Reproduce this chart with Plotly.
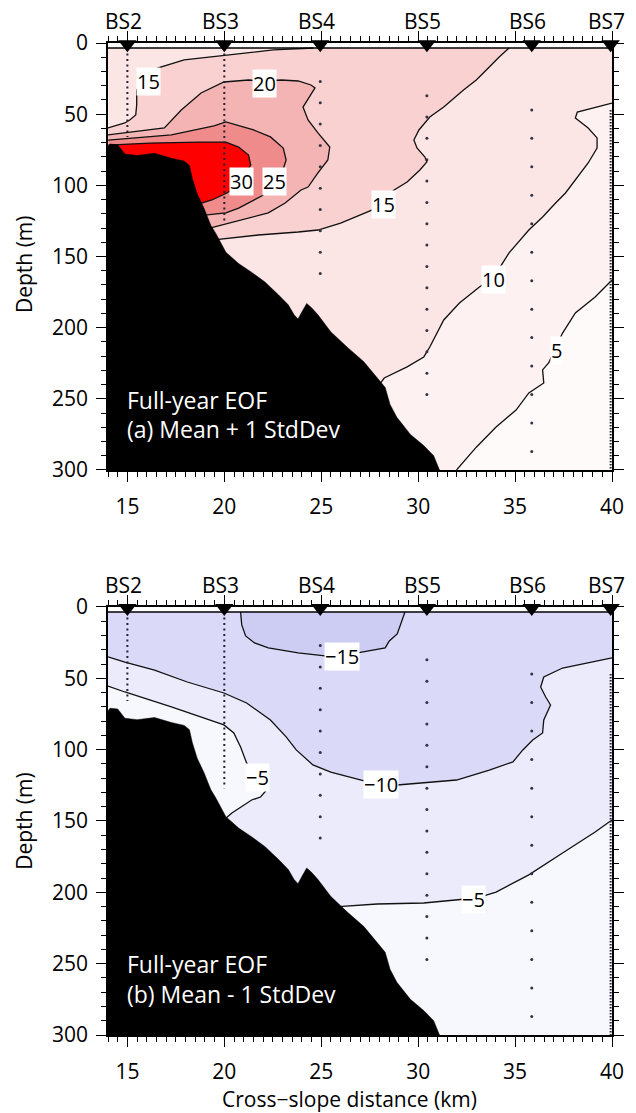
import plotly.graph_objects as go

FONT = "Open Sans"

# ---------------- axes / stations ----------------
KM_RANGE = [14, 40]
DEPTH_RANGE = [300, 0]
DATA_TOP_DEPTH = 3.5
BOTTOM_DEPTH = 300

STATION_NAMES = ["BS2", "BS3", "BS4", "BS5", "BS6", "BS7"]
STATION_KM = [15.0, 20.0, 24.95, 30.45, 35.86, 39.93]
STATION_MARK_DEPTH = 0.8

BS2_LINE_DEPTH = [3.5, 66]
BS3_LINE_DEPTH = [3.5, 127]
BS7_LINE_DEPTH = [47, 300]
BS4_DOT_DEPTH = [27, 42, 57, 72, 87, 102, 117, 132, 147, 162]
BS5_DOT_DEPTH = [37, 52, 67, 82, 97, 112, 127, 142, 157, 172, 187, 202, 217, 232, 247]
BS6_DOT_DEPTH = [47, 67, 87, 107, 127, 147, 167, 187, 207, 227, 247, 267, 287]

# ---------------- bathymetry ----------------
BATHY_KM = [14.0, 14.1, 14.5, 14.87, 15.5, 16.4, 17.27, 17.93, 18.2, 18.35, 18.6, 18.95,
            19.3, 19.57, 20.08, 20.4, 20.74, 21.4, 22.1, 22.8, 23.3, 23.6, 23.8, 24.0,
            24.25, 24.5, 24.83, 25.5, 26.36, 27.2, 27.9, 28.3, 28.55, 28.9, 29.6, 30.3,
            30.8, 31.1]
BATHY_DEPTH = [73, 71, 71.5, 78, 79, 77.5, 81, 83, 86, 95, 106, 116,
               128, 134, 147, 151, 155, 161, 168, 177, 184, 191, 194, 189,
               183, 186, 191, 203, 214, 224, 235, 242, 254, 263, 275, 283,
               290, 300]

# ---------------- panel (a) contours: Mean + 1 StdDev ----------------
A_C5_KM = [40.0, 39.13, 38.11, 37.45, 37.09, 36.73, 36.42, 36.48, 35.71, 35.05, 34.02, 33.0, 31.98]
A_C5_D = [166.5, 178.5, 189.7, 203.8, 214.3, 224.8, 229.7, 238.9, 245.9, 257.9, 269.8, 284.0, 300.0]

A_C10_KM = [40.0, 38.21, 38.11, 38.77, 39.23, 39.23, 38.77, 38.11, 37.60, 37.09, 36.42, 35.71,
            34.69, 33.87, 33.16, 32.13, 31.32, 30.60, 30.29, 29.43, 28.25, 28.0]
A_C10_D = [42.2, 48.5, 52.7, 59.7, 66.7, 73.8, 84.3, 96.3, 105.4, 112.4, 122.3, 131.4,
           147.5, 165.1, 171.4, 182.7, 194.6, 213.6, 220.6, 227.6, 235.4, 240.0]

A_C15A_KM = [14.0, 14.87, 15.12, 15.43, 15.48, 15.48, 16.15, 16.55, 17.93, 20.08, 22.53, 24.6]
A_C15A_D = [59.7, 56.2, 54.1, 50.6, 43.6, 33.0, 24.6, 17.6, 11.9, 8.4, 4.9, 3.5]

A_C15B_KM = [34.69, 34.18, 33.67, 33.0, 32.34, 31.72, 31.32, 30.60, 30.04, 29.78, 29.94, 30.35,
             30.45, 30.09, 29.43, 28.76, 28.25, 27.64, 26.87, 26.0, 24.83, 23.81, 21.76, 20.23, 19.47]
A_C15B_D = [3.5, 9.8, 16.9, 26.0, 33.0, 40.0, 45.0, 52.0, 61.1, 68.2, 73.8, 80.1,
            83.6, 89.2, 97.7, 103.3, 110.3, 117.3, 121.5, 126.5, 131.4, 132.8, 134.9, 137.0, 138.4]

A_C20_KM = [14.0, 16.91, 17.78, 18.80, 19.98, 21.25, 22.07, 22.94, 23.81, 24.47, 24.68, 24.06,
            24.32, 24.83, 25.44, 25.34, 24.83, 24.32, 23.96, 23.14, 22.27, 20.23, 19.25]
A_C20_D = [64.6, 59.7, 47.1, 35.1, 27.4, 26.0, 26.7, 26.0, 26.7, 29.5, 31.6, 45.0,
           54.1, 63.2, 73.1, 82.2, 91.3, 101.2, 103.3, 112.4, 119.4, 126.5, 130.0]

A_C25_KM = [14.0, 17.27, 19.47, 20.08, 21.51, 22.38, 23.04, 23.19, 22.89, 22.02, 20.74, 20.08, 19.0]
A_C25_D = [68.2, 64.6, 58.3, 55.5, 61.1, 66.0, 73.8, 82.2, 94.9, 106.8, 116.0, 119.4, 121.0]

A_C30_KM = [14.0, 16.15, 18.70, 20.08, 20.74, 21.25, 21.36, 21.10, 20.74, 20.13, 19.36, 18.7]
A_C30_D = [71.7, 70.3, 69.6, 69.6, 73.1, 78.7, 85.7, 92.7, 99.8, 105.4, 110.3, 113.0]

A_LABEL_TEXT = ["15", "20", "30", "25", "15", "10", "5"]
A_LABEL_KM = [16.07, 22.07, 20.87, 22.6, 28.22, 33.9, 37.14]
A_LABEL_D = [26.7, 28.5, 97.3, 97.3, 113.5, 166.2, 216.0]

# ---------------- panel (b) contours: Mean - 1 StdDev ----------------
B_C15_KM = [20.84, 20.9, 21.10, 21.56, 22.27, 23.81, 25.19, 26.87, 28.30, 28.51, 28.92, 29.12, 29.32]
B_C15_D = [3.5, 12.6, 20.3, 25.2, 28.7, 32.2, 34.3, 32.2, 28.7, 23.8, 18.9, 11.2, 3.5]

B_C10_KM = [14.0, 14.87, 16.40, 18.09, 19.98, 21.15, 22.38, 23.19, 23.71, 24.57, 25.49, 27.03,
            28.05, 28.92, 30.29, 31.98, 33.67, 34.89, 35.40, 35.91, 36.42, 36.48, 36.83, 36.58,
            36.32, 36.48, 37.45, 38.77, 40.0]
B_C10_D = [35.0, 38.6, 44.2, 52.6, 60.3, 67.3, 79.2, 91.1, 100.2, 110.7, 115.7, 121.3,
           124.8, 124.8, 123.4, 121.3, 114.3, 108.6, 100.2, 93.2, 88.3, 79.2, 68.7, 63.1,
           56.1, 49.1, 42.8, 39.3, 35.7]

B_C5A_KM = [14.0, 14.87, 17.27, 18.95, 19.98, 20.49, 20.84, 21.15, 21.61, 22.27, 21.87, 21.41, 20.39, 20.0]
B_C5A_D = [55.4, 59.6, 70.1, 77.8, 82.7, 88.3, 98.1, 109.3, 119.2, 126.9, 133.2, 135.3, 144.4, 149.0]

B_C5B_KM = [25.9, 27.89, 30.29, 32.13, 33.0, 34.02, 35.71, 37.45, 39.13, 40.0]
B_C5B_D = [210.0, 208.2, 207.5, 205.4, 204.0, 199.8, 187.8, 172.4, 157.7, 149.3]

B_LABEL_TEXT = ["\u221215", "\u221210", "\u22125", "\u22125"]
B_LABEL_KM = [26.05, 28.07, 21.71, 32.87]
B_LABEL_D = [34.7, 124.1, 119.5, 205.0]

# ---------------- styles ----------------
A_FILL = {"lt5": "#fefafa", "5": "#fdf1f1", "10": "#fce5e5", "15": "#f9d1d1",
          "20": "#f5b4b4", "25": "#ef8b8b", "30": "#fe0000"}
B_FILL = {"gtm5": "#f7f7fe", "m5": "#ebebfc", "m10": "#dadaf8", "m15": "#cdcdf4"}

fig = go.Figure()


def under_bathy(k_from, k_to, offset=6):
    lo, hi = min(k_from, k_to), max(k_from, k_to)
    pts = [(k, d + offset) for k, d in zip(BATHY_KM, BATHY_DEPTH) if lo < k < hi]
    if k_from > k_to:
        pts = pts[::-1]
    return [p[0] for p in pts], [p[1] for p in pts]


def poly(xs, ys, color, xa, ya):
    fig.add_trace(go.Scatter(x=xs, y=ys, mode="lines", fill="toself", fillcolor=color,
                             line=dict(width=0, color=color), xaxis=xa, yaxis=ya,
                             hoverinfo="skip", showlegend=False))


def cline(xs, ys, xa, ya, width=1.3, color="#111111", dash=None):
    fig.add_trace(go.Scatter(x=xs, y=ys, mode="lines",
                             line=dict(width=width, color=color, dash=dash),
                             xaxis=xa, yaxis=ya, hoverinfo="skip", showlegend=False))


K0, K1 = KM_RANGE
T, B = DATA_TOP_DEPTH, BOTTOM_DEPTH

# ===== panel a fills =====
xa, ya = "x", "y"
poly([K0, K1, K1, K0], [T, T, B, B], A_FILL["lt5"], xa, ya)
poly(A_C5_KM + [K0, K0, K1], A_C5_D + [B, T, T], A_FILL["5"], xa, ya)
ux, uy = under_bathy(A_C10_KM[-1], K0)
poly(A_C10_KM + ux + [K0, K1], A_C10_D + uy + [T, T], A_FILL["10"], xa, ya)
ux, uy = under_bathy(A_C15B_KM[-1], K0)
poly(A_C15A_KM + A_C15B_KM + ux, A_C15A_D + A_C15B_D + uy, A_FILL["15"], xa, ya)
for ck, cd, key in [(A_C20_KM, A_C20_D, "20"), (A_C25_KM, A_C25_D, "25"), (A_C30_KM, A_C30_D, "30")]:
    ux, uy = under_bathy(ck[-1], K0)
    poly(ck + ux, cd + uy, A_FILL[key], xa, ya)
for ck, cd in [(A_C5_KM, A_C5_D), (A_C10_KM, A_C10_D), (A_C15A_KM, A_C15A_D),
               (A_C15B_KM, A_C15B_D), (A_C20_KM, A_C20_D), (A_C25_KM, A_C25_D), (A_C30_KM, A_C30_D)]:
    cline(ck, cd, xa, ya)

# ===== panel b fills =====
xb, yb = "x2", "y2"
poly([K0, K1, K1, K0], [T, T, B, B], B_FILL["gtm5"], xb, yb)
ux, uy = under_bathy(B_C5B_KM[0], B_C5A_KM[-1])
poly([K0, K1] + B_C5B_KM[::-1] + ux + B_C5A_KM[::-1],
     [T, T] + B_C5B_D[::-1] + uy + B_C5A_D[::-1], B_FILL["m5"], xb, yb)
poly(B_C10_KM + [K1, K0], B_C10_D + [T, T], B_FILL["m10"], xb, yb)
poly(B_C15_KM, B_C15_D, B_FILL["m15"], xb, yb)
for ck, cd in [(B_C15_KM, B_C15_D), (B_C10_KM, B_C10_D), (B_C5A_KM, B_C5A_D), (B_C5B_KM, B_C5B_D)]:
    cline(ck, cd, xb, yb)

# ===== common: bathymetry, stations =====
for xr, yr in [("x", "y"), ("x2", "y2")]:
    fig.add_trace(go.Scatter(x=BATHY_KM + [K0], y=BATHY_DEPTH + [B], mode="lines", fill="toself",
                             fillcolor="black", line=dict(width=0.5, color="black"),
                             xaxis=xr, yaxis=yr, hoverinfo="skip", showlegend=False))
    cline([STATION_KM[0]] * 2, BS2_LINE_DEPTH, xr, yr, width=2, color="#222233", dash="2px,3.5px")
    cline([STATION_KM[1]] * 2, BS3_LINE_DEPTH, xr, yr, width=2, color="#222233", dash="2px,3.5px")
    cline([STATION_KM[5]] * 2, BS7_LINE_DEPTH, xr, yr, width=2, color="#222233", dash="1.5px,1.5px")
    for km, depths in [(STATION_KM[2], BS4_DOT_DEPTH), (STATION_KM[3], BS5_DOT_DEPTH),
                       (STATION_KM[4], BS6_DOT_DEPTH)]:
        fig.add_trace(go.Scatter(x=[km] * len(depths), y=depths, mode="markers",
                                 marker=dict(size=3, color="#333344"),
                                 xaxis=xr, yaxis=yr, hoverinfo="skip", showlegend=False))
    fig.add_trace(go.Scatter(x=STATION_KM, y=[STATION_MARK_DEPTH] * len(STATION_KM), mode="markers",
                             marker=dict(symbol="triangle-down", size=16, color="black"),
                             cliponaxis=False, xaxis=xr, yaxis=yr, hoverinfo="skip", showlegend=False))
    fig.add_shape(type="line", xref=xr, yref=yr, x0=K0, x1=K1, y0=T, y1=T,
                  line=dict(color="black", width=1.5))

# ---------------- annotations ----------------
ann = []
for xr, yr in [("x", "y"), ("x2", "y2")]:
    for name, km in zip(STATION_NAMES, STATION_KM):
        ann.append(dict(x=km, y=0, xref=xr, yref=yr, text=name, showarrow=False,
                        xanchor="center", yanchor="bottom", yshift=6, xshift=-4,
                        font=dict(family=FONT, size=21, color="black")))

for t, k, d in zip(A_LABEL_TEXT, A_LABEL_KM, A_LABEL_D):
    ann.append(dict(x=k, y=d, xref="x", yref="y", text=t, showarrow=False, bgcolor="white",
                    borderpad=0, font=dict(family=FONT, size=20, color="black")))
for t, k, d in zip(B_LABEL_TEXT, B_LABEL_KM, B_LABEL_D):
    ann.append(dict(x=k, y=d, xref="x2", yref="y2", text=t, showarrow=False, bgcolor="white",
                    borderpad=0, font=dict(family=FONT, size=20, color="black")))

PANEL_TEXT = [("x", "y", "(a) Mean + 1 StdDev"), ("x2", "y2", "(b) Mean - 1 StdDev")]
for xr, yr, sub in PANEL_TEXT:
    ann.append(dict(x=14.87, y=250.5, xref=xr, yref=yr, text="Full-year EOF", showarrow=False,
                    xanchor="left", yanchor="middle", font=dict(family=FONT, size=23, color="white")))
    ann.append(dict(x=14.87, y=271.5, xref=xr, yref=yr, text=sub, showarrow=False,
                    xanchor="left", yanchor="middle", font=dict(family=FONT, size=23, color="white")))

for ypos in [0.777, 0.2157]:
    ann.append(dict(x=-0.167, y=ypos, xref="paper", yref="paper", text="Depth (m)", textangle=-90,
                    showarrow=False, xanchor="center", yanchor="middle",
                    font=dict(family=FONT, size=21, color="black")))
ann.append(dict(x=0.479, y=-0.0645, xref="paper", yref="paper", text="Cross\u2212slope distance (km)",
                showarrow=False, xanchor="center", yanchor="middle",
                font=dict(family=FONT, size=21, color="black")))

xcommon = dict(range=KM_RANGE, showline=True, linecolor="black", linewidth=1.5, mirror="allticks",
               ticks="outside", ticklen=10, tickwidth=1.3, tickcolor="black", tick0=0, dtick=5,
               minor=dict(dtick=0.5, ticklen=5, tickwidth=1, tickcolor="black", ticks="outside"),
               showgrid=False, zeroline=False, ticklabelstandoff=7,
               tickfont=dict(family=FONT, size=21, color="black"))
ycommon = dict(range=DEPTH_RANGE, showline=True, linecolor="black", linewidth=1.5, mirror="allticks",
               ticks="outside", ticklen=10, tickwidth=1.3, tickcolor="black", tick0=0, dtick=50,
               minor=dict(dtick=10, ticklen=5, tickwidth=1, tickcolor="black", ticks="outside"),
               showgrid=False, zeroline=False, ticklabelstandoff=4,
               tickfont=dict(family=FONT, size=21, color="black"))

fig.update_layout(
    width=636, height=1113,
    margin=dict(l=108, r=19, t=43, b=78),
    paper_bgcolor="white", plot_bgcolor="white",
    showlegend=False,
    xaxis=dict(**xcommon, domain=[0, 1], anchor="y"),
    yaxis=dict(**ycommon, domain=[0.5696, 1.0], anchor="x"),
    xaxis2=dict(**xcommon, domain=[0, 1], anchor="y2"),
    yaxis2=dict(**ycommon, domain=[0.0, 0.4315], anchor="x2"),
    annotations=ann,
)

fig.write_html("out.html")
